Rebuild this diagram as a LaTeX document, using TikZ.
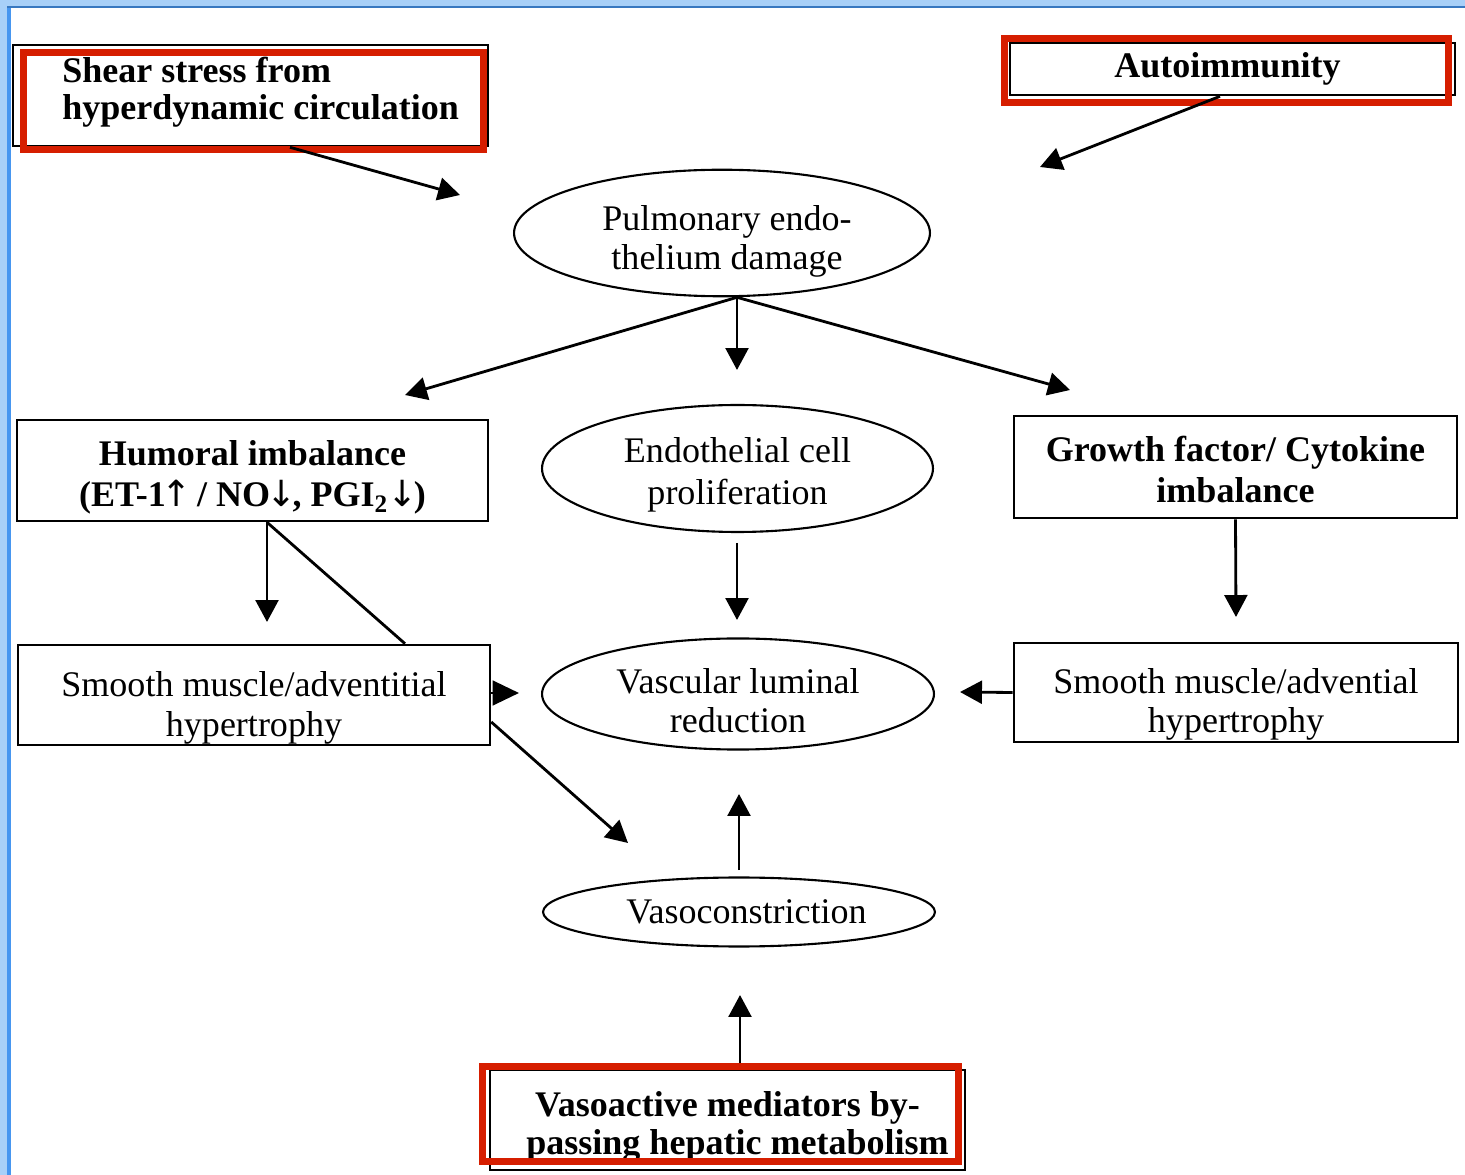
\documentclass[tikz,border=0pt]{standalone}
\usepackage{fontspec}
\setmainfont{Liberation Serif}
\newfontfamily\arrowfont{DejaVu Sans}
\usetikzlibrary{arrows.meta,shapes.geometric}
\definecolor{redf}{RGB}{214,30,0}
\definecolor{bluelight}{RGB}{168,208,248}
\definecolor{bluemid}{RGB}{70,150,240}
\newcommand{\dn}[1]{\rule{0pt}{#1}}
\newcommand{\upar}{\makebox[0.62em]{\arrowfont\mdseries ↑}}
\newcommand{\dnar}{\makebox[0.62em]{\arrowfont\mdseries ↓}}
\tikzset{
  txt/.style={font=\fontsize{20.5}{22.5}\selectfont, align=center, inner sep=0pt},
  box/.style={txt, draw, line width=1.5pt, rectangle},
  oval/.style={txt, draw, line width=1.2pt, ellipse},
  redframe/.style={draw=redf, line width=3.9pt, rectangle, inner sep=0pt},
  arr/.style={line width=1.6pt, -{Triangle[length=12.5pt,width=13pt]}},
  bigarr/.style={line width=1.6pt, -{Triangle[length=15pt,width=14pt]}},
  plainline/.style={line width=1.6pt}
}
\begin{document}
\begin{tikzpicture}[x=0.02cm,y=-0.02cm]
\useasboundingbox (0,0) rectangle (1465,1175);
\fill[white] (0,0) rectangle (1465,1175);
% window border
\fill[bluelight] (0,0) rectangle (1465,7);
\fill[bluemid!80!black] (0,6) rectangle (1465,8);
\fill[bluelight] (0,0) rectangle (7,1175);
\fill[bluemid] (7,8) rectangle (11,1175);

% boxes
\node[box, minimum width=9.5cm, minimum height=2.02cm] (shearbox) at (250.5,95.5) {};
\node[txt, anchor=west, align=left, font=\fontsize{20.5}{21}\selectfont\bfseries] (sheartext) at (62,92.5) {Shear stress from\\hyperdynamic circulation};
\node[box, font=\fontsize{20.5}{22.5}\selectfont\bfseries, minimum width=8.9cm, minimum height=1.04cm] (auto) at (1232.5,69) {\hspace*{-0.2cm}Autoimmunity};
\node[oval, minimum width=8.32cm, minimum height=2.52cm] (pulm) at (722,233) {\dn{24pt}\hspace*{0.2cm}Pulmonary endo-\\\hspace*{0.2cm}thelium damage};
\node[box, font=\fontsize{20.5}{23.5}\selectfont\bfseries, minimum width=9.42cm, minimum height=2.02cm] (humoral) at (252.5,470.5) {\dn{22pt}Humoral imbalance\\(ET-1\upar\ / NO\dnar, PGI\textsubscript{2}\kern2pt\dnar)};
\node[oval, font=\fontsize{20.5}{24}\selectfont, minimum width=7.82cm, minimum height=2.54cm] (endo) at (737.5,468.5) {\dn{21pt}Endothelial cell\\proliferation};
\node[box, font=\fontsize{20.5}{23.5}\selectfont\bfseries, minimum width=8.86cm, minimum height=2.04cm] (growth) at (1235.5,467) {\dn{17.5pt}Growth factor/ Cytokine\\imbalance};
\node[box, minimum width=9.44cm, minimum height=2.0cm] (smoothL) at (254,695) {\dn{29pt}Smooth muscle/adventitial\\hypertrophy};
\node[oval, minimum width=7.84cm, minimum height=2.04cm] (vasc) at (738,694) {\dn{22pt}Vascular luminal\\reduction};
\node[box, minimum width=8.88cm, minimum height=1.98cm] (smoothR) at (1236,692.5) {\dn{27.5pt}Smooth muscle/advential\\hypertrophy};
\node[oval, minimum width=7.84cm, minimum height=1.38cm] (vasocon) at (739,912) {\hspace*{0.3cm}Vasoconstriction};
\node[box, font=\fontsize{20.5}{21.5}\selectfont\bfseries, minimum width=9.5cm, minimum height=2.0cm] (vasoact) at (727.5,1120) {\dn{22pt}Vasoactive mediators by-\\\hspace*{0.4cm}passing hepatic metabolism};

% red highlight frames
\node[redframe, minimum width=9.2cm, minimum height=1.94cm] (shearred) at (253.5,101) {};
\node[redframe, minimum width=8.88cm, minimum height=1.28cm] (autored) at (1226.5,70.5) {};
\node[redframe, minimum width=9.52cm, minimum height=1.9cm] (vasored) at (720.5,1114) {};

% free ends
\coordinate (a1s) at (290,150);
\coordinate (a1e) at (460,195);
\coordinate (a2s) at (1220,95);
\coordinate (a2e) at (1040,167);
\coordinate (p0) at (737,296);
\coordinate (pL) at (405,395);
\coordinate (pM) at (737,370);
\coordinate (pR) at (1070,390);
\coordinate (h0) at (267,521);
\coordinate (hM) at (267,622);
\coordinate (hD) at (405,645);
\coordinate (e0) at (737,543);
\coordinate (eM) at (737,620);
\coordinate (gM) at (1236,617);
\coordinate (rT) at (960,692);
\coordinate (lS) at (490,693);
\coordinate (lT) at (519,693);
\coordinate (dS) at (491,722);
\coordinate (dT) at (628,843);
\coordinate (vS) at (739,870);
\coordinate (vT) at (739,794);
\coordinate (bT) at (740,995);

% connectors
\draw[arr] (shearbox.south -| a1s) -- (a1e);
\draw[arr] (auto.south -| a2s) -- (a2e);
\draw[arr] (pulm.south -| p0) -- (pL);
\draw[arr] (pulm.south -| p0) -- (pM);
\draw[arr] (pulm.south -| p0) -- (pR);
\draw[arr] (humoral.south -| h0) -- (hM);
\draw[plainline] (humoral.south -| h0) -- (smoothL.north -| hD);
\draw[arr] (e0) -- (eM);
\draw[arr] (growth.south) -- (gM);
\draw[arr] (smoothR.west) -- (rT);
\draw[bigarr] (smoothL.east |- lS) -- (lT);
\draw[arr] (smoothL.east |- dS) -- (dT);
\draw[arr] (vS) -- (vT);
\draw[arr] (vasored.north -| bT) -- (bT);
\end{tikzpicture}
\end{document}
